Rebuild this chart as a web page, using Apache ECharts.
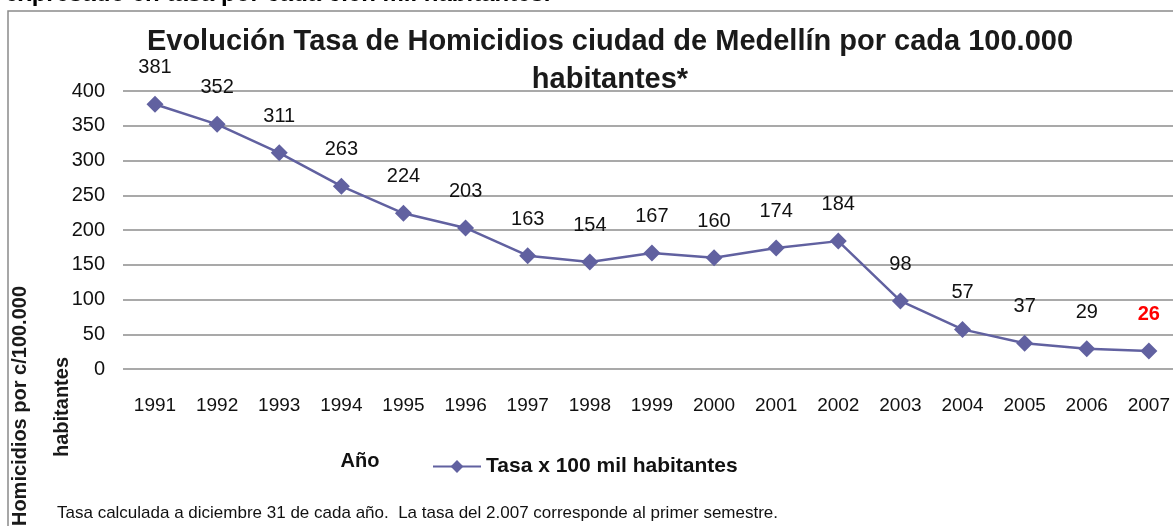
<!DOCTYPE html>
<html>
<head>
<meta charset="utf-8">
<script src="https://cdn.jsdelivr.net/npm/echarts@6/dist/echarts.min.js"></script>
<style>
html,body{margin:0;padding:0;background:#fff;}
#chart{width:1173px;height:526px;}
</style>
</head>
<body>
<div id="chart"></div>
<script>
var years = ['1991','1992','1993','1994','1995','1996','1997','1998','1999','2000','2001','2002','2003','2004','2005','2006','2007'];
var tasa = [381,352,311,263,224,203,163,154,167,160,174,184,98,57,37,29,26];
var yTicks = [0,50,100,150,200,250,300,350,400];

var FONT = '"Liberation Sans", Arial, sans-serif';
var lineColor = '#6161a0';

var seriesData = tasa.map(function (v, i) {
  if (i === tasa.length - 1) {
    return { value: v, label: { color: '#ff0000', fontWeight: 'bold' } };
  }
  return v;
});

var chart = echarts.init(document.getElementById('chart'));
chart.setOption({
  animation: false,
  backgroundColor: '#ffffff',
  title: {
    text: 'Evolución Tasa de Homicidios ciudad de Medellín por cada 100.000\nhabitantes*',
    left: 605,
    textAlign: 'center',
    top: 18,
    textStyle: { fontFamily: FONT, fontSize: 29, fontWeight: 'bold', color: '#1a1a1a', lineHeight: 38 }
  },
  grid: [
    { left: 155, top: 91, right: 17, height: 278, containLabel: false },
    { left: 123, top: 91, right: 0, height: 278, containLabel: false }
  ],
  xAxis: [{
    type: 'category',
    gridIndex: 0,
    data: years,
    boundaryGap: false,
    axisLine: { show: false },
    axisTick: { show: false },
    axisLabel: { margin: 27, fontFamily: FONT, fontSize: 19, color: '#111', showMaxLabel: true, showMinLabel: true }
  }, {
    type: 'category',
    gridIndex: 1,
    data: years,
    show: false
  }],
  yAxis: [{
    type: 'value',
    gridIndex: 0,
    min: yTicks[0],
    max: yTicks[yTicks.length - 1],
    interval: 50,
    axisLine: { show: false },
    axisTick: { show: false },
    axisLabel: { show: false },
    splitLine: { show: false }
  }, {
    type: 'value',
    gridIndex: 1,
    min: yTicks[0],
    max: yTicks[yTicks.length - 1],
    interval: 50,
    axisLine: { show: false },
    axisTick: { show: false },
    axisLabel: { margin: 18, fontFamily: FONT, fontSize: 20, color: '#111' },
    splitLine: { lineStyle: { color: '#8c8c8c', width: 1.5 } }
  }],
  legend: {
    left: 427,
    top: 451,
    itemWidth: 48,
    itemHeight: 16,
    itemGap: 8,
    data: ['Tasa x 100 mil habitantes'],
    textStyle: { fontFamily: FONT, fontSize: 21, fontWeight: 'bold', color: '#111' }
  },
  series: [{
    name: 'Tasa x 100 mil habitantes',
    type: 'line',
    xAxisIndex: 0,
    yAxisIndex: 0,
    data: seriesData,
    symbol: 'diamond',
    symbolSize: 17,
    z: 3,
    lineStyle: { color: lineColor, width: 2.5 },
    itemStyle: { color: lineColor },
    label: {
      show: true,
      position: 'top',
      distance: 18,
      fontFamily: FONT,
      fontSize: 20,
      color: '#111'
    }
  }],
  graphic: [
    { type: 'rect', shape: { x: 8, y: 11, width: 1300, height: 700 }, style: { fill: 'none', stroke: '#8a8a8a', lineWidth: 1.5 }, silent: true },
    { type: 'text', x: 5, y: 6, style: { text: 'expresado en tasa por cada cien mil habitantes.', fontFamily: FONT, fontSize: 24, fontWeight: 'bold', fill: '#000', textAlign: 'left', textVerticalAlign: 'bottom' } },
    { type: 'text', x: 20, y: 406, rotation: Math.PI / 2, style: { text: 'Homicidios por c/100.000', fontFamily: FONT, fontSize: 20, fontWeight: 'bold', fill: '#1a1a1a', textAlign: 'center', textVerticalAlign: 'middle' } },
    { type: 'text', x: 62, y: 407, rotation: Math.PI / 2, style: { text: 'habitantes', fontFamily: FONT, fontSize: 20, fontWeight: 'bold', fill: '#1a1a1a', textAlign: 'center', textVerticalAlign: 'middle' } },
    { type: 'text', x: 360, y: 461, style: { text: 'Año', fontFamily: FONT, fontSize: 20, fontWeight: 'bold', fill: '#111', textAlign: 'center', textVerticalAlign: 'middle' } },
    { type: 'text', x: 57, y: 513, style: { text: 'Tasa calculada a diciembre 31 de cada año.  La tasa del 2.007 corresponde al primer semestre.', fontFamily: FONT, fontSize: 17, fill: '#111', textAlign: 'left', textVerticalAlign: 'middle' } }
  ]
});
</script>
</body>
</html>
